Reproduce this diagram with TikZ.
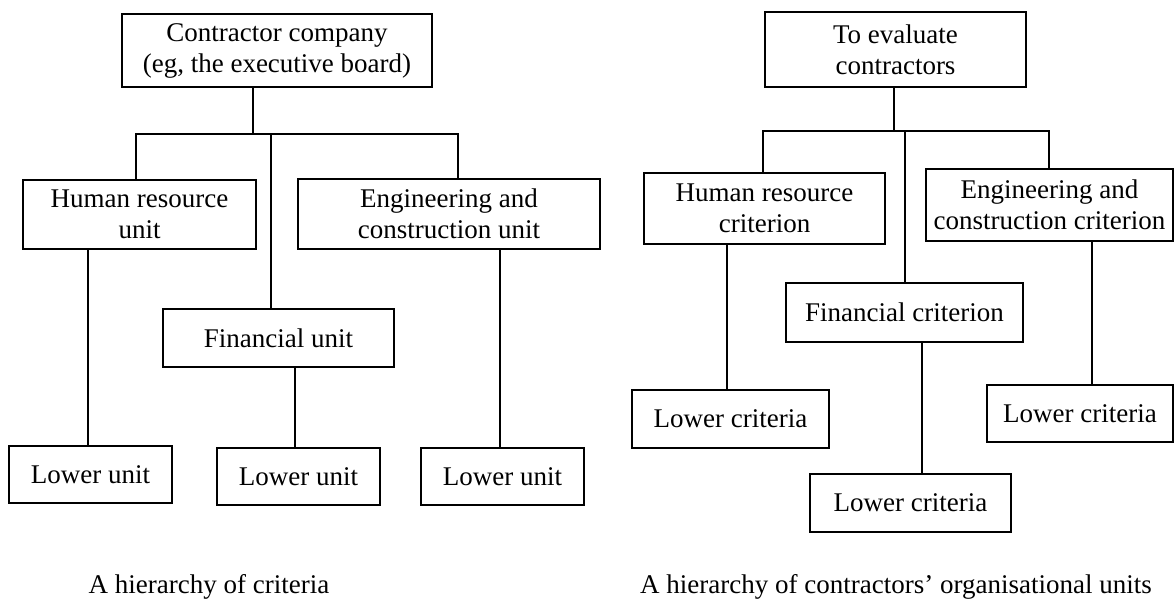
\documentclass[tikz,border=0pt]{standalone}
\usepackage{fontspec}
\setmainfont{Liberation Serif}
\begin{document}
\begin{tikzpicture}[x=1pt,y=-1pt,
  every node/.style={font=\fontsize{27}{31}\selectfont},
  box/.style args={#1x#2}{draw,line width=1.6pt,inner sep=0pt,align=center,
    minimum width=#1pt,minimum height=#2pt},
  link/.style={line width=1.6pt}]
\useasboundingbox (0,0) rectangle (1174,601);

% ---- organisational units ----
\node[box=310x73] (ctop) at (277,50.5) {Contractor company\\(eg, the executive board)};
\node[box=233x69] (chr)  at (139.5,214.5) {Human resource\\unit};
\node[box=302x70] (ceng) at (449,214) {Engineering and\\construction unit};
\node[box=231x58] (cfin) at (278.5,338) {Financial unit};
\node[box=163x57] (clo1) at (90.5,474.5) {Lower unit};
\node[box=163x57] (clo2) at (298.5,476.5) {Lower unit};
\node[box=163x57] (clo3) at (502.5,476.5) {Lower unit};

\coordinate (cj)  at (253,134);
\coordinate (cbl) at (136,134);
\coordinate (cbr) at (458,134);
\coordinate (cbm) at (271,134);
\coordinate (cs1) at (88,0);
\coordinate (cs2) at (295,0);
\coordinate (cs3) at (500,0);

\draw[link] (cj |- ctop.south) -- (cj);
\draw[link] (cbl |- chr.north) -- (cbl) -- (cbr) -- (cbr |- ceng.north);
\draw[link] (cbm) -- (cbm |- cfin.north);
\draw[link] (cs1 |- chr.south) -- (cs1 |- clo1.north);
\draw[link] (cs2 |- cfin.south) -- (cs2 |- clo2.north);
\draw[link] (cs3 |- ceng.south) -- (cs3 |- clo3.north);

\node (capl) at (209,587) {A hierarchy of criteria};

% ---- evaluation criteria ----
\node[box=261x75] (etop) at (895.5,49.5) {To evaluate\\contractors};
\node[box=241x71] (ehr)  at (764.5,208.5) {Human resource\\criterion};
\node[box=247x72] (eeng) at (1049.5,205) {Engineering and\\construction criterion};
\node[box=237x59] (efin) at (904.5,312.5) {Financial criterion};
\node[box=197x58] (elo1) at (730.5,419) {Lower criteria};
\node[box=201x58] (elo2) at (910.5,503) {Lower criteria};
\node[box=186x57] (elo3) at (1080,413.5) {Lower criteria};

\coordinate (ej)  at (894,131);
\coordinate (ebl) at (763,131);
\coordinate (ebr) at (1049,131);
\coordinate (ebm) at (905,131);
\coordinate (es1) at (727,0);
\coordinate (es2) at (922,0);
\coordinate (es3) at (1092,0);

\draw[link] (ej |- etop.south) -- (ej);
\draw[link] (ebl |- ehr.north) -- (ebl) -- (ebr) -- (ebr |- eeng.north);
\draw[link] (ebm) -- (ebm |- efin.north);
\draw[link] (es1 |- ehr.south) -- (es1 |- elo1.north);
\draw[link] (es2 |- efin.south) -- (es2 |- elo2.north);
\draw[link] (es3 |- eeng.south) -- (es3 |- elo3.north);

\node (capr) at (896,587) {A hierarchy of contractors’ organisational units};
\end{tikzpicture}
\end{document}
